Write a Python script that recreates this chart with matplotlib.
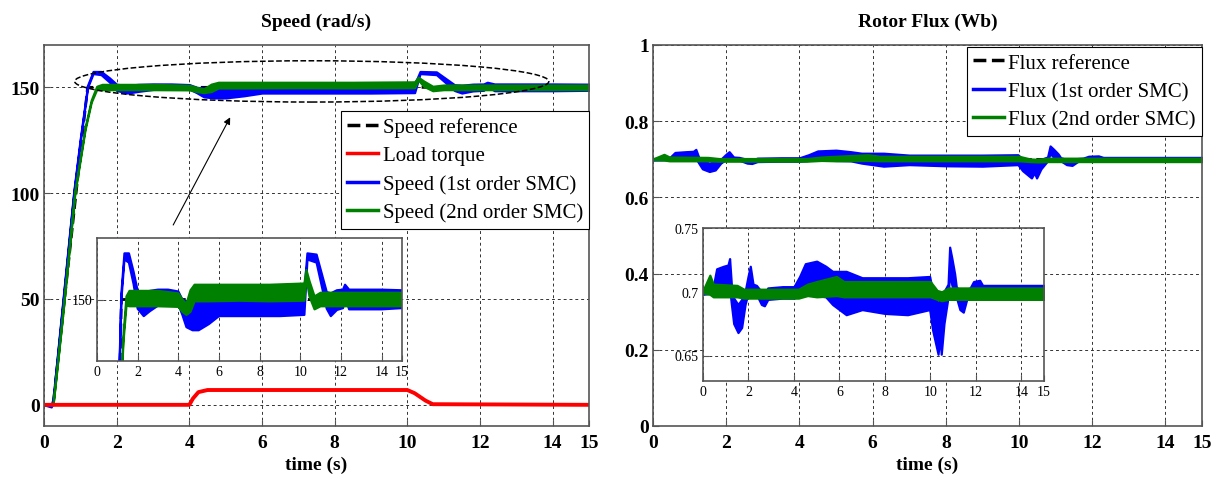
import matplotlib
matplotlib.use("Agg")
import matplotlib.pyplot as plt
from matplotlib.patches import Ellipse
from matplotlib.lines import Line2D

plt.rcParams['font.family'] = ['Liberation Serif', 'DejaVu Serif']

# ---------------- data: speed ----------------
ref_t = [0, 0.25, 1.2, 15]
ref_v = [0, 0, 150, 150]

blue_t = [0, 0.2, 0.25, 0.5, 0.82, 1.0, 1.2, 1.35, 1.57, 1.8, 2.0, 2.3, 2.6, 3.0, 3.5, 4.0,
          4.2, 4.4, 4.7, 5.0, 5.5, 6.0, 7.0, 8.0, 9.0, 10.2, 10.35, 10.8, 11.3, 11.5, 11.8,
          12.1, 12.2, 12.4, 13.0, 14.0, 15.0]
blue_lo = [0, -1, 2, 45, 100, 125, 150, 156.5, 156, 152.5, 148.5, 147.3, 148.1, 149.0, 149.2, 149.2,
           147.5, 145.5, 145.0, 145.0, 146.0, 147.3, 147.3, 147.3, 147.3, 147.5, 156.5, 156.0, 148.5, 147.3, 148.3,
           148.6, 150.5, 148.4, 148.4, 148.4, 148.6]
blue_hi = [0.5, 0, 3, 46, 101, 126, 151, 157.5, 157.5, 154.5, 151.4, 151.0, 151.4, 151.6, 151.6, 151.3,
           150.0, 149.7, 150.3, 150.3, 151.0, 151.4, 151.6, 151.4, 151.6, 151.5, 157.5, 157.3, 151.2, 151.0, 151.5,
           151.6, 152.4, 151.6, 151.6, 151.6, 151.5]

grn_t = [0, 0.25, 0.5, 0.85, 1.13, 1.3, 1.45, 1.6, 2.0, 3.0, 4.0, 4.2, 4.4, 4.6, 4.8, 5.5, 7.0, 8.5,
         10.2, 10.3, 10.45, 10.7, 11.0, 12.0, 13.5, 15.0]
grn_lo = [0, 0, 40, 100, 130, 143, 149, 148.9, 148.9, 148.9, 148.8, 148.0, 147.5, 148.0, 149.7, 149.7, 149.8, 149.7,
          149.8, 153.5, 150.5, 148.4, 148.9, 148.9, 148.9, 148.9]
grn_hi = [0.5, 0.5, 41, 101, 131, 144, 150.5, 151.4, 151.4, 151.4, 151.0, 150.0, 149.3, 151.5, 152.4, 152.4, 152.4, 152.4,
          152.6, 154.8, 153.0, 150.5, 151.1, 151.1, 151.1, 151.1]

load_t = [0, 4.0, 4.1, 4.25, 4.5, 10.0, 10.2, 10.5, 10.7, 15]
load_v = [0, 0, 3, 6, 7, 7, 5.5, 2, 0.3, 0]

# ---------------- data: flux ----------------
fref_t = [0, 15]
fref_v = [0.7, 0.7]

fb_t = [0, 0.44, 0.6, 0.9, 1.1, 1.17, 1.25, 1.35, 1.54, 1.7, 1.85, 1.98, 2.08, 2.2, 2.35, 2.57, 2.7,
        2.85, 3.5, 4.0, 4.25, 4.5, 5.0, 5.4, 5.7, 6.3, 7.0, 8.0, 9.0, 9.97, 10.1, 10.34, 10.42, 10.48,
        10.6, 10.78, 10.85, 10.95, 11.07, 11.14, 11.3, 11.45, 11.6, 11.75, 11.9, 12.17, 12.3, 13.5, 15]
fb_lo = [0.698, 0.699, 0.700, 0.699, 0.701, 0.703, 0.690, 0.675, 0.668, 0.672, 0.690, 0.699, 0.700, 0.698,
         0.698, 0.690, 0.689, 0.694, 0.695, 0.695, 0.697, 0.698, 0.697, 0.696, 0.690, 0.682, 0.686, 0.683,
         0.682, 0.686, 0.670, 0.651, 0.665, 0.651, 0.675, 0.696, 0.715, 0.705, 0.700, 0.696, 0.686, 0.684,
         0.694, 0.697, 0.697, 0.697, 0.695, 0.695, 0.695]
fb_hi = [0.702, 0.703, 0.718, 0.720, 0.721, 0.726, 0.705, 0.695, 0.690, 0.694, 0.700, 0.712, 0.720, 0.706,
         0.705, 0.700, 0.698, 0.703, 0.704, 0.704, 0.712, 0.722, 0.724, 0.720, 0.716, 0.716, 0.711, 0.711,
         0.711, 0.712, 0.700, 0.690, 0.695, 0.690, 0.700, 0.706, 0.735, 0.726, 0.714, 0.704, 0.700, 0.698,
         0.702, 0.703, 0.708, 0.709, 0.705, 0.705, 0.705]

fg_t = [0, 0.3, 0.45, 1.5, 1.8, 4.2, 4.6, 5.0, 5.87, 6.2, 10.0, 10.3, 10.5, 10.8, 15]
fg_lo = [0.699, 0.698, 0.696, 0.696, 0.695, 0.695, 0.697, 0.696, 0.697, 0.696, 0.696, 0.694, 0.693, 0.694, 0.694]
fg_hi = [0.701, 0.713, 0.706, 0.705, 0.702, 0.702, 0.706, 0.708, 0.712, 0.708, 0.708, 0.701, 0.700, 0.703, 0.703]

xticks_main = [0, 2, 4, 6, 8, 10, 12, 14, 15]
speed_yticks = [0, 50, 100, 150]
flux_yticks = [0, 0.2, 0.4, 0.6, 0.8, 1]
flux_ylabels = ['0', '0.2', '0.4', '0.6', '0.8', '1']

BLUE = '#0000ff'
GREEN = '#008000'
RED = '#ff0000'
SPINE = '#555555'
GRID = dict(color='#333333', linestyle=(0, (3, 3)), linewidth=0.7)


def style_axes(ax, labelsize, weight, pad):
    for s in ax.spines.values():
        s.set_color(SPINE)
        s.set_linewidth(1.2)
    ax.tick_params(direction='in', length=4, color=SPINE, labelsize=labelsize)
    ax.tick_params(axis='x', pad=pad)
    ax.tick_params(axis='y', pad=3)
    for lbl in ax.get_xticklabels() + ax.get_yticklabels():
        lbl.set_fontweight(weight)
    ax.grid(True, **GRID)
    ax.set_axisbelow(True)


def band(ax, t, lo, hi, c, lw=1.6):
    ax.fill_between(t, lo, hi, color=c, edgecolor=c, linewidth=lw, zorder=2)


def leg_kw():
    return dict(loc='upper right', borderaxespad=0, fancybox=False, framealpha=1, edgecolor='k',
                fontsize=15, handlelength=1.5, handletextpad=0.2, labelspacing=0.42, borderpad=0.3)


fig = plt.figure(figsize=(12.2, 4.81), dpi=100)

# ---------------- Speed ----------------
ax1 = fig.add_axes([44 / 1220, 54 / 481, 545 / 1220, 381 / 481])
ax1.plot(ref_t, ref_v, color='k', ls='--', lw=2, zorder=1.5)
band(ax1, blue_t, blue_lo, blue_hi, BLUE)
band(ax1, grn_t, grn_lo, grn_hi, GREEN)
ax1.plot(load_t, load_v, color=RED, lw=2.8, zorder=2.5)
ax1.set_xlim(0, 15)
ax1.set_ylim(-10, 170)
ax1.set_xticks(xticks_main)
ax1.set_yticks(speed_yticks)
style_axes(ax1, 14, 'bold', 6)
ax1.set_title('Speed (rad/s)', fontsize=14, fontweight='bold', pad=14)
ax1.set_xlabel('time (s)', fontsize=14, fontweight='bold', labelpad=3)

ax1.add_patch(Ellipse((7.37, 152.8), 13.05, 19.5, fill=False, ls='--', lw=1.1, color='k', zorder=5))
ax1.annotate('', xy=(5.16, 137), xytext=(3.52, 83.8),
             arrowprops=dict(arrowstyle='-|>', color='k', lw=0.8, mutation_scale=10))

h1 = [Line2D([], [], color='k', ls='--', lw=2.5),
      Line2D([], [], color=RED, lw=2.5),
      Line2D([], [], color=BLUE, lw=2.5),
      Line2D([], [], color=GREEN, lw=2.5)]
leg1 = ax1.legend(h1, ['Speed reference', 'Load torque', 'Speed (1st order SMC)', 'Speed (2nd order SMC)'],
                  bbox_to_anchor=(1, 0.827), **leg_kw())
leg1.get_frame().set_linewidth(0.8)

# inset speed
ins1 = fig.add_axes([97 / 1220, 119 / 481, 305 / 1220, 123 / 481])
ins1.plot(ref_t, ref_v, color='k', ls='--', lw=2, zorder=1.5)
band(ins1, blue_t, blue_lo, blue_hi, BLUE)
band(ins1, grn_t, grn_lo, grn_hi, GREEN)
ins1.set_xlim(0, 15)
ins1.set_ylim(140, 160)
ins1.set_xticks(xticks_main)
ins1.set_yticks([150])
style_axes(ins1, 10, 'normal', 3)

# ---------------- Flux ----------------
ax2 = fig.add_axes([653 / 1220, 54 / 481, 549 / 1220, 381 / 481])
ax2.plot(fref_t, fref_v, color='k', ls='--', lw=2, zorder=1.5)
band(ax2, fb_t, fb_lo, fb_hi, BLUE)
band(ax2, fg_t, fg_lo, fg_hi, GREEN)
ax2.set_xlim(0, 15)
ax2.set_ylim(0, 1)
ax2.set_xticks(xticks_main)
ax2.set_yticks(flux_yticks)
ax2.set_yticklabels(flux_ylabels)
style_axes(ax2, 14, 'bold', 6)
ax2.set_title('Rotor Flux (Wb)', fontsize=14, fontweight='bold', pad=14)
ax2.set_xlabel('time (s)', fontsize=14, fontweight='bold', labelpad=3)

h2 = [Line2D([], [], color='k', ls='--', lw=2.5),
      Line2D([], [], color=BLUE, lw=2.5),
      Line2D([], [], color=GREEN, lw=2.5)]
leg2 = ax2.legend(h2, ['Flux reference', 'Flux (1st order SMC)', 'Flux (2nd order SMC)'],
                  bbox_to_anchor=(1, 0.995), **leg_kw())
leg2.get_frame().set_linewidth(0.8)

ins2 = fig.add_axes([703 / 1220, 99 / 481, 341 / 1220, 153 / 481])
ins2.plot(fref_t, fref_v, color='k', ls='--', lw=2, zorder=1.5)
band(ins2, fb_t, fb_lo, fb_hi, BLUE)
band(ins2, fg_t, fg_lo, fg_hi, GREEN)
ins2.set_xlim(0, 15)
ins2.set_ylim(0.63, 0.75)
ins2.set_xticks(xticks_main)
ins2.set_yticks([0.65, 0.7, 0.75])
ins2.set_yticklabels(['0.65', '0.7', '0.75'])
style_axes(ins2, 10, 'normal', 3)

fig.savefig('out.png', dpi=100)
